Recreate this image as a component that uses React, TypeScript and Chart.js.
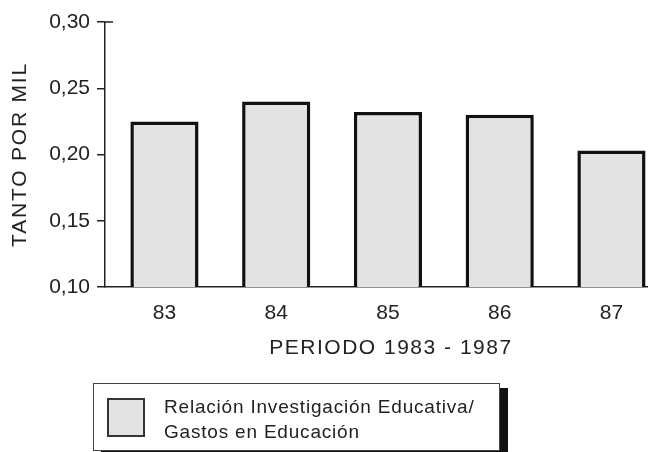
import React, { useEffect, useRef } from "react";
import { Chart, registerables } from "chart.js";

Chart.register(...registerables);

// ---- data ----
const categories: number[] = [83, 84, 85, 86, 87];
const values: number[] = [0.225, 0.24, 0.232, 0.23, 0.203];
const yTickValues: number[] = [0.1, 0.15, 0.2, 0.25, 0.3];
const yTickLabels: string[] = ["0,10", "0,15", "0,20", "0,25", "0,30"];
const seriesLabel = "Relación Investigación Educativa/ Gastos en Educación";
const legendLines: string[] = ["Relación Investigación Educativa/", "Gastos en Educación"];
const xTitle = "PERIODO 1983 - 1987";
const yTitle = "TANTO POR MIL";

const FONT = "'Liberation Sans', Arial, Helvetica, sans-serif";
const TEXT = "#222";

const titlesPlugin = {
  id: "titles",
  afterDraw(chart: any) {
    const ctx = chart.ctx as CanvasRenderingContext2D;
    const area = chart.chartArea;
    const xs = chart.scales.x;
    ctx.save();
    ctx.fillStyle = TEXT;
    ctx.font = `21px ${FONT}`;
    (ctx as any).letterSpacing = "1.5px";
    ctx.textAlign = "center";
    ctx.textBaseline = "middle";
    ctx.fillText(xTitle, xs.getPixelForValue(categories[2]) + 3, 348);
    ctx.restore();

    ctx.save();
    ctx.fillStyle = TEXT;
    ctx.font = `21px ${FONT}`;
    (ctx as any).letterSpacing = "1.8px";
    ctx.textAlign = "center";
    ctx.textBaseline = "middle";
    ctx.translate(20, (area.top + area.bottom) / 2);
    ctx.rotate(-Math.PI / 2);
    ctx.fillText(yTitle, 0, 0);
    ctx.restore();

    // top tick extends across the axis
    ctx.save();
    ctx.strokeStyle = "#222";
    ctx.lineWidth = 1.5;
    ctx.beginPath();
    ctx.moveTo(area.left, area.top);
    ctx.lineTo(area.left + 8, area.top);
    ctx.stroke();
    ctx.restore();
  },
};

export default function App() {
  const ref = useRef<HTMLCanvasElement | null>(null);

  useEffect(() => {
    if (!ref.current) return;
    const chart = new Chart(ref.current, {
      type: "bar",
      data: {
        datasets: [
          {
            label: seriesLabel,
            data: categories.map((c, i) => ({ x: c, y: values[i] })),
            backgroundColor: "#e3e3e3",
            borderColor: "#111",
            borderWidth: 3.5,
            borderSkipped: "bottom",
            barPercentage: 0.61,
            categoryPercentage: 1,
          },
        ],
      },
      options: {
        animation: false,
        responsive: false,
        maintainAspectRatio: false,
        layout: { padding: { top: 22, left: 0, right: 0, bottom: 0 } },
        plugins: { legend: { display: false }, tooltip: { enabled: false } },
        scales: {
          x: {
            type: "linear",
            offset: false,
            min: 82.468,
            max: 87.327,
            afterBuildTicks: (s: any) => {
              s.ticks = categories.map((c) => ({ value: c }));
            },
            afterFit: (s: any) => {
              s.height = 165;
            },
            ticks: {
              callback: (v: any) => String(v),
              font: { family: FONT, size: 21 },
              color: TEXT,
              padding: 14,
              maxRotation: 0,
              autoSkip: false,
            },
            grid: { offset: false, drawOnChartArea: false, drawTicks: false },
            border: { display: true, color: "#222", width: 1.5 },
          },
          y: {
            type: "linear",
            min: 0.1,
            max: 0.3,
            afterBuildTicks: (s: any) => {
              s.ticks = yTickValues.map((v) => ({ value: v }));
            },
            afterFit: (s: any) => {
              s.width = 105;
            },
            ticks: {
              callback: (v: any) => {
                const i = yTickValues.findIndex((t) => Math.abs(t - v) < 1e-9);
                return i >= 0 ? yTickLabels[i] : "";
              },
              font: { family: FONT, size: 21 },
              color: TEXT,
              padding: 7,
              autoSkip: false,
            },
            grid: { drawOnChartArea: false, drawTicks: true, tickLength: 8, color: "#222", lineWidth: 1.5 },
            border: { display: true, color: "#222", width: 1.5 },
          },
        },
      },
      plugins: [titlesPlugin],
    });
    return () => chart.destroy();
  }, []);

  return (
    <div style={{ position: "absolute", left: 0, top: 0, width: 648, height: 452, overflow: "hidden", background: "#fff" }}>
      <canvas ref={ref} width={648} height={452} style={{ position: "absolute", left: 0, top: 0 }} />
      <div
        style={{
          position: "absolute",
          left: 93,
          top: 383,
          width: 407,
          height: 68,
          boxSizing: "border-box",
          border: "1.5px solid #444",
          boxShadow: "8px 5px 0 #111",
          background: "#fff",
        }}
      >
        <div
          style={{
            position: "absolute",
            left: 13,
            top: 14,
            width: 38,
            height: 39,
            boxSizing: "border-box",
            border: "2px solid #333",
            background: "#e3e3e3",
          }}
        />
        <div
          style={{
            position: "absolute",
            left: 70,
            top: 10,
            font: `19px ${FONT}`,
            lineHeight: "25px",
            letterSpacing: "0.8px",
            color: TEXT,
            whiteSpace: "nowrap",
          }}
        >
          {legendLines.map((l, i) => (
            <div key={i}>{l}</div>
          ))}
        </div>
      </div>
    </div>
  );
}
